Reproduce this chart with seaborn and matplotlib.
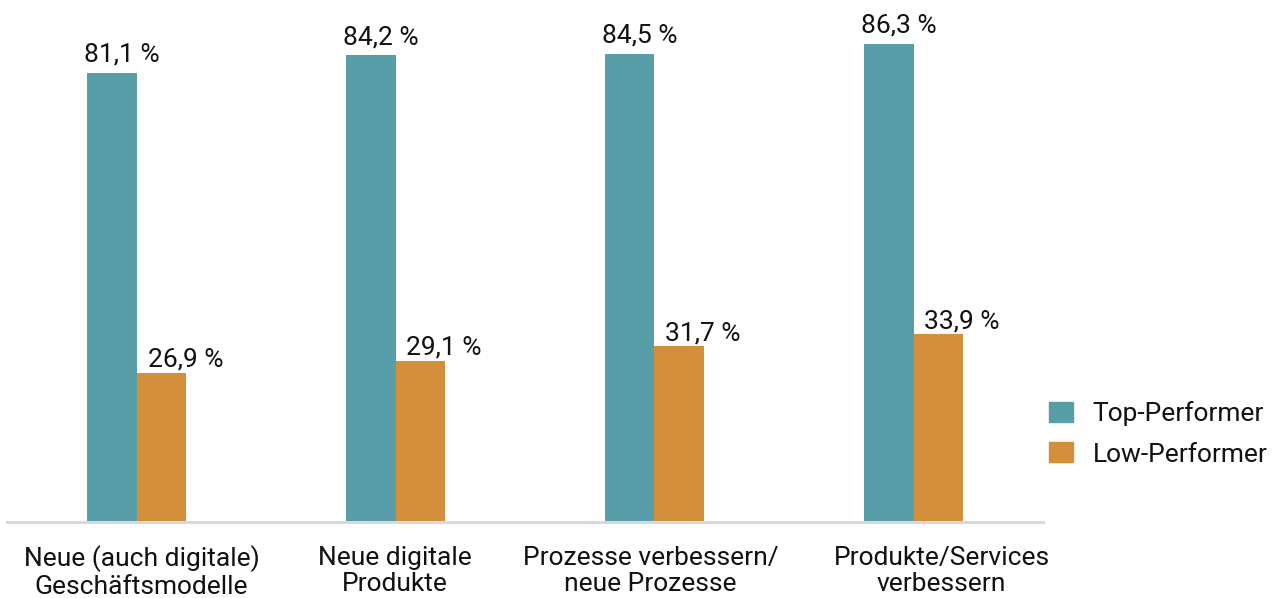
import matplotlib
matplotlib.use("Agg")
import matplotlib.pyplot as plt
from matplotlib.transforms import ScaledTranslation
import seaborn as sns
import pandas as pd

categories = [
    "Neue (auch digitale)\nGeschäftsmodelle",
    "Neue digitale\nProdukte",
    "Prozesse verbessern/\nneue Prozesse",
    "Produkte/Services\nverbessern",
]
series_names = ["Top-Performer", "Low-Performer"]
top_values = [81.1, 84.2, 84.5, 86.3]
low_values = [26.9, 29.1, 31.7, 33.9]
colors = ["#579EA9", "#D38F3C"]

df = pd.DataFrame({
    "Kategorie": categories * 2,
    "Gruppe": [series_names[0]] * 4 + [series_names[1]] * 4,
    "Wert": top_values + low_values,
})

sns.set_theme(style="white")
plt.rcParams["font.family"] = ["Roboto", "DejaVu Sans"]
FS = 19
PX = 72 / 100  # points per pixel at dpi 100

fig = plt.figure(figsize=(12.83, 5.98), dpi=100)
ax = fig.add_axes([7 / 1283, 76 / 598, 1036 / 1283, 522 / 598])

sns.barplot(
    data=df, x="Kategorie", y="Wert", hue="Gruppe",
    order=categories, hue_order=series_names, palette=colors,
    width=0.386, saturation=1, ax=ax, legend=True, errorbar=None,
    linewidth=0,
)

# value labels: left-anchored near each bar's left edge, sitting on the baseline
label_offsets = [(-3, 11), (11, 6)]  # (dx, dy) in pixels per series
for container, (dx, dy) in zip(ax.containers, label_offsets):
    for bar, v in zip(container, container.datavalues):
        ax.annotate(
            f"{v:.1f} %".replace(".", ","),
            xy=(bar.get_x(), bar.get_height()),
            xytext=(dx * PX, dy * PX), textcoords="offset points",
            ha="left", va="baseline", fontsize=FS, color="#111111",
        )

ax.set_xlim(-0.5, 3.5)
ax.set_ylim(0, 94.2)
ax.set_xlabel("")
ax.set_ylabel("")
ax.set_yticks([])
for side in ["top", "right", "left"]:
    ax.spines[side].set_visible(False)
ax.spines["bottom"].set_color("#d9d9d9")
ax.spines["bottom"].set_linewidth(2.2)
ax.tick_params(axis="x", length=0, pad=17, labelsize=FS, labelcolor="#111111")

# small horizontal nudges of the category labels (pixels)
tick_shift = [5, -1, -4, 28]
for lbl, dx in zip(ax.get_xticklabels(), tick_shift):
    lbl.set_linespacing(1.15)
    lbl.set_transform(lbl.get_transform() + ScaledTranslation(dx / 100, 0, fig.dpi_scale_trans))

ax.get_legend().remove()
handles = [plt.Rectangle((0, 0), 1, 1, color=c) for c in colors]
fig.legend(
    handles, series_names, loc="center left",
    bbox_to_anchor=(1049 / 1283, 1 - 434 / 598),
    frameon=False, fontsize=FS, handlelength=0.9, handleheight=0.8,
    handletextpad=0.75, labelspacing=0.6, borderpad=0, borderaxespad=0,
    labelcolor="#111111",
)

fig.savefig("out.png", dpi=100)
